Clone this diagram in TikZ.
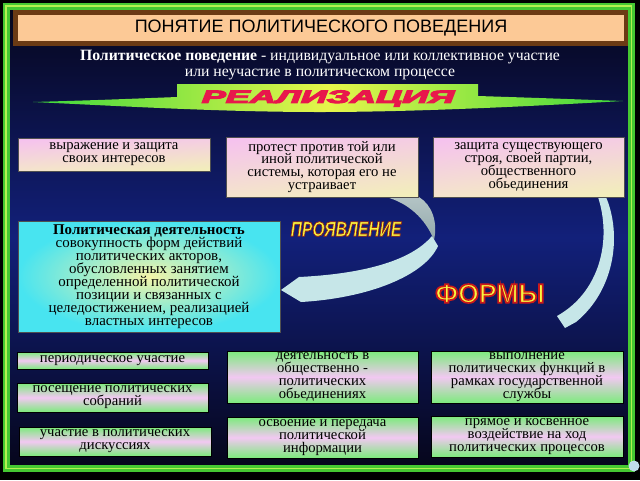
\documentclass[tikz,border=0pt]{standalone}
\usepackage{fontspec}
\setmainfont{Liberation Serif}
\setsansfont{Liberation Sans}
\usepackage{graphicx}
\usetikzlibrary{shadings}
\definecolor{bgdark}{HTML}{06061C}
\definecolor{bgmid}{HTML}{12207A}
\definecolor{frameg}{HTML}{45C832}
\definecolor{framey}{HTML}{B4F050}
\definecolor{brownc}{HTML}{6B3A14}
\definecolor{peach}{HTML}{FCC996}
\definecolor{bang}{HTML}{3CD83C}
\definecolor{bany}{HTML}{E6F54A}
\definecolor{realred}{HTML}{E8184C}
\definecolor{provy}{HTML}{F8F840}
\definecolor{ribc}{HTML}{C6E6E8}
\definecolor{ribg}{HTML}{93AAAC}
\definecolor{pinkA}{HTML}{F5C0F0}
\definecolor{pinkB}{HTML}{F4CCE4}
\definecolor{yelA}{HTML}{F4E4CC}
\definecolor{yelB}{HTML}{F2F0B8}
\definecolor{grn}{HTML}{7CEB7C}
\definecolor{pnk}{HTML}{F2C8F2}
\definecolor{cyo}{HTML}{48E4F0}
\definecolor{cyi}{HTML}{F4F4A8}
\definecolor{boxedge}{HTML}{505050}
\definecolor{blob}{HTML}{C0DCEC}
% outlined text: #1 stroke width, #2 stroke rgb, #3 text
\newcommand{\outltext}[3]{\special{pdf:code 2 Tr #1 w #2 RG}#3\special{pdf:code 0 Tr}}
\newcommand{\tightlines}{\lineskiplimit=-20pt\lineskip=0pt}
\tikzset{
  pinkbox/.style={draw=boxedge, line width=0.5pt, upper left=pinkA, upper right=pinkB,
    lower left=yelA, lower right=yelB, inner sep=0pt, align=center, text=black,
    font=\fontsize{11}{9.7}\selectfont\tightlines},
  greenbox/.style={draw=black, line width=0.4pt, top color=grn, bottom color=grn,
    middle color=pnk, inner sep=0pt, align=center, text=black,
    font=\fontsize{11}{9.7}\selectfont\tightlines},
  cyanbox/.style={draw=boxedge, line width=0.5pt, inner color=cyi, outer color=cyo,
    inner sep=0pt, align=center, text=black, font=\fontsize{11.2}{9.8}\selectfont\tightlines},
  provtext/.style={font=\sffamily\bfseries\itshape\fontsize{15.7}{15.7}\selectfont, inner sep=0pt},
  formtext/.style={font=\sffamily\bfseries\fontsize{20}{20}\selectfont, inner sep=0pt},
  realtext/.style={font=\sffamily\bfseries\itshape\fontsize{13.5}{13.5}\selectfont, inner sep=0pt},
}
\begin{document}
\begin{tikzpicture}[x=0.75pt,y=-0.75pt]
\useasboundingbox (0,0) rectangle (640,480);
\fill[black] (0,0) rectangle (640,480);
\shade[top color=bgdark, bottom color=bgdark, middle color=bgmid] (10,10) rectangle (628,465);
\draw[frameg, line width=5.25pt] (6,6) rectangle (631.5,468.5);
\draw[framey, line width=1.1pt] (6,6) rectangle (631.5,468.5);

% title
\node[fill=brownc, minimum width=461.25pt, minimum height=27pt, inner sep=0pt] (titlebar) at (320.5,28) {};
\node[fill=peach, minimum width=454.5pt, minimum height=19.5pt, inner sep=0pt,
  font=\sffamily\fontsize{13.5}{13.5}\selectfont] (title) at (321,28) {ПОНЯТИЕ ПОЛИТИЧЕСКОГО ПОВЕДЕНИЯ};

% definition
\node[text=white, align=center, inner sep=0pt, font=\fontsize{11.8}{12}\selectfont] (def) at (320,65)
  {\textbf{Политическое поведение} - индивидуальное или коллективное участие\\или неучастие в политическом процессе};

% banner
\shade[left color=bang, right color=bang, middle color=bany]
  (177,84) -- (478,84) -- (478,96) .. controls (540,98) .. (623,101)
  .. controls (500,108) and (400,112) .. (320,112)
  .. controls (220,112) and (120,106) .. (33,102)
  .. controls (100,100) .. (177,97) -- cycle;
\node[realtext, text=realred] (real) at (328,98.5)
  {\scalebox{2.0}[1]{\outltext{0.7}{0.91 0.09 0.3}{РЕАЛИЗАЦИЯ}}};

% ribbons
\shade[top color=ribg!70!white, bottom color=ribg] (386,197) -- (419,197)
  .. controls (432,205) and (438,222) .. (434,240)
  .. controls (425,218) and (408,203) .. (386,197) -- cycle;
\fill[ribc] (432,236) .. controls (410,262) and (360,274) .. (299,277)
  -- (281,290) -- (301,302) .. controls (370,298) and (425,275) .. (438,246) -- cycle;
\fill[ribc] (598,197) -- (606,197) .. controls (622,235) and (615,290) .. (576,322)
  -- (565,328) -- (557,316) .. controls (600,292) and (612,240) .. (598,197) -- cycle;

% top row
\node[pinkbox, minimum width=144pt, minimum height=24.75pt] (a) at (114,154.5)
  {выражение и защита\\своих интересов};
\node[pinkbox, minimum width=144pt, minimum height=45pt] (b) at (322,167)
  {протест против той или\\иной политической\\системы, которая его не\\устраивает};
\node[pinkbox, minimum width=143.25pt, minimum height=45pt] (c) at (528.5,167)
  {защита существующего\\строя, своей партии,\\общественного\\обьединения};

% cyan box
\node[cyanbox, minimum width=196.5pt, minimum height=83.25pt] (pd) at (149,276.5)
  {\textbf{Политическая деятельность}\\совокупность форм действий\\политических акторов,\\обусловленных занятием\\определенной политической\\позиции и связанных с\\целедостижением, реализацией\\властных интересов};

% labels
\node[provtext, text=provy] (prov) at (346,229)
  {\scalebox{0.75}[1]{\outltext{0.6}{0.6 0.15 0.08}{ПРОЯВЛЕНИЕ}}};
\node[formtext, text=provy] (form) at (490,293.5)
  {\outltext{1.3}{0.8 0.1 0.1}{ФОРМЫ}};

% bottom rows
\node[greenbox, minimum width=143.25pt, minimum height=12.75pt] (g1) at (112.5,360.5)
  {периодическое участие};
\node[greenbox, minimum width=143.25pt, minimum height=21.75pt] (g2) at (112.5,397.5)
  {посещение политических\\собраний};
\node[greenbox, minimum width=144pt, minimum height=21.75pt] (g3) at (115,441.5)
  {участие в политических\\дискуссиях};
\node[greenbox, minimum width=143.25pt, minimum height=39pt] (g4) at (322.5,377)
  {деятельность в\\общественно -\\политических\\обьединениях};
\node[greenbox, minimum width=143.25pt, minimum height=30.75pt] (g5) at (322.5,437.5)
  {освоение и передача\\политической\\информации};
\node[greenbox, minimum width=144pt, minimum height=39pt] (g6) at (527,377)
  {выполнение\\политических функций в\\рамках государственной\\службы};
\node[greenbox, minimum width=144pt, minimum height=30.75pt] (g7) at (527,436.5)
  {прямое и косвенное\\воздействие на ход\\политических процессов};

% corner blob
\fill[blob] (634,466) circle (5.5);
\end{tikzpicture}
\end{document}
